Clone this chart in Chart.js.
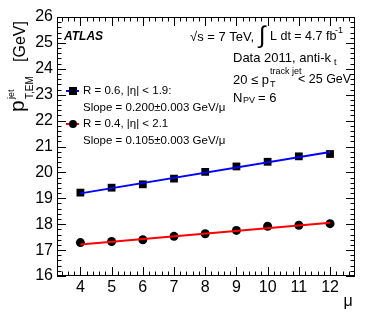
<!DOCTYPE html>
<html>
<head>
<meta charset="utf-8">
<script src="https://cdn.jsdelivr.net/npm/chart.js@4"></script>
<style>
    html, body { margin: 0; padding: 0; background: #fff; }
    #wrap { width: 374px; height: 318px; }
</style>
</head>
<body>
<div id="wrap"><canvas id="chart" width="374" height="318"></canvas></div>
<script>
// values
const mu = [4, 5, 6, 7, 8, 9, 10, 11, 12];
const ptR06 = [19.22, 19.41, 19.54, 19.76, 20.02, 20.23, 20.41, 20.62, 20.71];
const ptR04 = [17.29, 17.33, 17.40, 17.53, 17.63, 17.76, 17.92, 17.96, 18.02];
const fitR06 = [19.19, 20.79];   // fit line at mu = 4 and 12
const fitR04 = [17.22, 18.06];
const fitRange = [4, 12];
const xTicks = [4, 5, 6, 7, 8, 9, 10, 11, 12];
const yTicks = [16, 17, 18, 19, 20, 21, 22, 23, 24, 25, 26];

const FONT = '"Liberation Sans", Arial, sans-serif';

function pts(xs, ys) {
    return xs.map((x, i) => ({ x: x, y: ys[i] }));
}

// ROOT style frame with inward ticks + all the labels
const atlasDecor = {
    id: 'atlasDecor',
    afterDraw(chart) {
        const ctx = chart.ctx;
        const xs = chart.scales.x, ys = chart.scales.y;
        const a = chart.chartArea;
        ctx.save();
        ctx.strokeStyle = '#000';
        ctx.lineWidth = 1;
        ctx.strokeRect(a.left + 0.5, a.top + 0.5, a.right - a.left - 1, a.bottom - a.top - 1);

        ctx.beginPath();
        // y ticks, 0.2 minor
        for (let v = 16; v <= 26.001; v += 0.2) {
            const major = Math.abs(v - Math.round(v)) < 0.01;
            const len = major ? 9 : 4.5;
            const py = Math.round(ys.getPixelForValue(v)) + 0.5;
            ctx.moveTo(a.left, py); ctx.lineTo(a.left + len, py);
            ctx.moveTo(a.right, py); ctx.lineTo(a.right - len, py);
        }
        // x ticks, 0.2 minor
        for (let v = 3.4; v <= 12.8; v += 0.2) {
            const major = Math.abs(v - Math.round(v)) < 0.01;
            const len = major ? 9 : 4.5;
            const px = Math.round(xs.getPixelForValue(v)) + 0.5;
            if (px <= a.left || px >= a.right) continue;
            ctx.moveTo(px, a.bottom); ctx.lineTo(px, a.bottom - len);
            ctx.moveTo(px, a.top); ctx.lineTo(px, a.top + len);
        }
        ctx.stroke();

        ctx.fillStyle = '#000';
        ctx.textBaseline = 'middle';
        // axis labels
        ctx.font = '16px ' + FONT;
        ctx.textAlign = 'right';
        yTicks.forEach(v => ctx.fillText(String(v), a.left - 4, ys.getPixelForValue(v)));
        ctx.textAlign = 'center';
        xTicks.forEach(v => ctx.fillText(String(v), xs.getPixelForValue(v), a.bottom + 12));
        ctx.fillText('\u03bc', 348, 302);

        // y title (rotated)
        ctx.save();
        ctx.translate(0, 112);
        ctx.rotate(-Math.PI / 2);
        ctx.textAlign = 'left';
        ctx.textBaseline = 'alphabetic';
        ctx.font = '21px ' + FONT;
        ctx.fillText('p', 0, 24);
        ctx.font = '9px ' + FONT;
        ctx.fillText('jet', 13, 14);
        ctx.font = '10px ' + FONT;
        ctx.fillText('T,EM', 13, 33);
        ctx.font = '16px ' + FONT;
        ctx.fillText('[GeV]', 50, 25);
        ctx.restore();

        ctx.textAlign = 'left';
        ctx.font = 'italic bold 12px ' + FONT;
        ctx.fillText('ATLAS', 64, 37);

        ctx.font = '13px ' + FONT;
        ctx.fillText('\u221as = 7 TeV,', 190, 37);
        ctx.font = '24px ' + FONT;
        ctx.fillText('\u222b', 259, 36);
        ctx.font = '12.5px ' + FONT;
        ctx.fillText('L dt = 4.7 fb', 270, 37);
        ctx.font = '9px ' + FONT;
        ctx.fillText('-1', 335, 31);

        ctx.font = '13px ' + FONT;
        ctx.fillText('Data 2011, anti-k', 233, 58);
        ctx.font = '9px ' + FONT;
        ctx.fillText('t', 334, 63);
        ctx.font = '13px ' + FONT;
        ctx.fillText('20 \u2264 p', 233, 80);
        ctx.font = '9px ' + FONT;
        ctx.fillText('T', 270, 85);
        ctx.fillText('track jet', 270, 72);
        ctx.font = '12.5px ' + FONT;
        ctx.fillText('< 25 GeV', 298, 80);
        ctx.font = '13px ' + FONT;
        ctx.fillText('N', 233, 98);
        ctx.font = '9px ' + FONT;
        ctx.fillText('PV', 243, 101);
        ctx.font = '13px ' + FONT;
        ctx.fillText('= 6', 258, 98);

        // legend
        const leg = [
            { y: 91, color: '#0000ff', style: 'rect', t1: 'R = 0.6, |\u03b7| < 1.9:', t2: 'Slope = 0.200\u00b10.003 GeV/\u03bc' },
            { y: 124, color: '#ff0000', style: 'circle', t1: 'R = 0.4, |\u03b7| < 2.1', t2: 'Slope = 0.105\u00b10.003 GeV/\u03bc' }
        ];
        leg.forEach(e => {
            ctx.strokeStyle = e.color;
            ctx.lineWidth = 2;
            ctx.beginPath();
            ctx.moveTo(66, e.y); ctx.lineTo(79, e.y);
            ctx.stroke();
            ctx.fillStyle = '#000';
            if (e.style === 'rect') {
                ctx.fillRect(69, e.y - 4, 8, 8);
            } else {
                ctx.beginPath();
                ctx.arc(73, e.y, 4, 0, Math.PI * 2);
                ctx.fill();
            }
            ctx.font = '11.5px ' + FONT;
            ctx.fillText(e.t1, 83, e.y);
            ctx.fillText(e.t2, 83, e.y + 16.5);
        });
        ctx.restore();
    }
};

new Chart(document.getElementById('chart'), {
    type: 'scatter',
    data: {
        datasets: [
            {
                label: 'fit R=0.6',
                data: pts(fitRange, fitR06),
                showLine: true,
                borderColor: '#0000ff',
                borderWidth: 2,
                pointRadius: 0
            },
            {
                label: 'fit R=0.4',
                data: pts(fitRange, fitR04),
                showLine: true,
                borderColor: '#ff0000',
                borderWidth: 2,
                pointRadius: 0
            },
            {
                label: 'R = 0.6',
                data: pts(mu, ptR06),
                pointStyle: 'rect',
                pointRadius: 5.5,
                backgroundColor: '#000',
                borderColor: '#000',
                borderWidth: 0
            },
            {
                label: 'R = 0.4',
                data: pts(mu, ptR04),
                pointStyle: 'circle',
                pointRadius: 4.5,
                backgroundColor: '#000',
                borderColor: '#000',
                borderWidth: 0
            }
        ]
    },
    options: {
        responsive: false,
        animation: false,
        layout: { padding: { left: 57, top: 17, right: 19, bottom: 42 } },
        plugins: {
            legend: { display: false },
            tooltip: { enabled: false }
        },
        scales: {
            x: { type: 'linear', min: 3.25, max: 12.8, display: false },
            y: { type: 'linear', min: 16, max: 26, display: false }
        }
    },
    plugins: [atlasDecor]
});
</script>
</body>
</html>
